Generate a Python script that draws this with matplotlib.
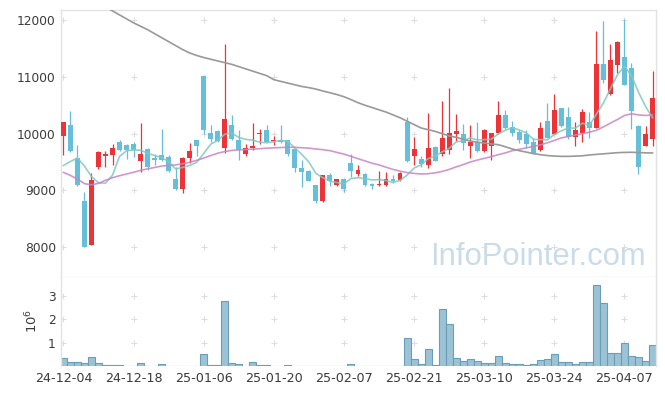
import numpy as np
import matplotlib.pyplot as plt

# daily candles, 2024-12-04 .. 2025-04-11 (85 trading days)
opens = [9950, 10160, 9570, 8820, 8040, 9420, 9600, 9630, 9850, 9800,
         9820, 9510, 9730, 9580, 9620, 9590, 9210, 9030, 9580, 9880,
         11010, 10010, 10050, 9750, 10160, 9880, 9650, 9740, 10000, 10070,
         9870, 9890, 9890, 9730, 9400, 9350, 9090, 8810, 9280, 9090,
         9200, 9480, 9290, 9290, 9120, 9090, 9100, 9200, 9190, 10200,
         9610, 9550, 9440, 9760, 9640, 9720, 10000, 10000, 9790, 9850,
         9690, 9780, 10010, 10320, 10120, 10030, 9990, 9860, 9710, 10230,
         10000, 10450, 10290, 9940, 10020, 10200, 10100, 11220, 10690, 11200,
         11350, 11160, 10140, 9790, 9910]
highs = [10210, 10390, 9800, 8980, 9300, 9690, 9690, 9820, 9880, 9810,
         9850, 10190, 9740, 9640, 10080, 9630, 9420, 9590, 9840, 9880,
         11010, 10150, 10060, 11580, 10320, 10060, 9810, 10190, 10080, 10150,
         9950, 10160, 9890, 9740, 9540, 9360, 9090, 9280, 9310, 9210,
         9220, 9640, 9450, 9300, 9140, 9350, 9320, 9280, 9320, 10300,
         9940, 9610, 10370, 9790, 10570, 10810, 10340, 10170, 10160, 10200,
         10080, 10020, 10570, 10420, 10220, 10070, 10070, 9920, 10200, 10540,
         10700, 10460, 10470, 10200, 10440, 10380, 11800, 11980, 11580, 11630,
         12010, 11250, 10150, 10130, 11100]
lows = [9630, 9680, 9070, 8000, 8040, 9380, 9410, 9440, 9690, 9550,
        9590, 9320, 9360, 9440, 9520, 9320, 9000, 8960, 9480, 9610,
        10000, 9850, 9850, 9660, 9890, 9530, 9600, 9720, 9810, 9850,
        9800, 9840, 9610, 9330, 9060, 9170, 8780, 8800, 9080, 9080,
        8980, 9240, 9250, 9080, 9020, 9080, 9080, 9130, 9160, 9500,
        9450, 9410, 9400, 9510, 9600, 9650, 9870, 9710, 9580, 9680,
        9680, 9540, 10000, 10090, 9960, 9830, 9750, 9640, 9690, 9920,
        9990, 10120, 9900, 9780, 9850, 9920, 10100, 10900, 10680, 11060,
        10850, 10080, 9290, 9780, 9780]
closes = [10210, 9690, 9100, 8010, 9190, 9670, 9650, 9740, 9720, 9710,
          9720, 9650, 9420, 9530, 9530, 9350, 9030, 9570, 9700, 9780,
          10060, 9910, 9870, 10250, 9910, 9710, 9740, 9790, 10020, 9850,
          9890, 9850, 9650, 9390, 9330, 9170, 8820, 9280, 9160, 9200,
          9030, 9350, 9360, 9090, 9070, 9110, 9210, 9160, 9310, 9510,
          9730, 9460, 9750, 9510, 9920, 10020, 10040, 9840, 9850, 9690,
          10070, 10010, 10320, 10100, 10010, 9880, 9820, 9650, 10100, 9920,
          10410, 10130, 9940, 10070, 10380, 10100, 11220, 10950, 11300, 11610,
          10850, 10390, 9410, 10000, 10630]
# volume in millions of shares
volumes = [0.35, 0.18, 0.18, 0.14, 0.39, 0.14, 0.05, 0.05, 0.05, 0.02,
           0.02, 0.14, 0.02, 0.005, 0.10, 0.02, 0.02, 0.02, 0.02, 0.02,
           0.52, 0.06, 0.06, 2.79, 0.14, 0.10, 0.02, 0.18, 0.05, 0.05,
           0.02, 0.02, 0.05, 0.02, 0.02, 0.005, 0.02, 0.02, 0.02, 0.02,
           0.02, 0.10, 0.02, 0.02, 0.02, 0.02, 0.02, 0.02, 0.02, 1.21,
           0.31, 0.10, 0.74, 0.06, 2.45, 1.82, 0.35, 0.24, 0.31, 0.24,
           0.14, 0.14, 0.45, 0.14, 0.10, 0.10, 0.06, 0.10, 0.28, 0.31,
           0.52, 0.18, 0.18, 0.10, 0.18, 0.18, 3.45, 2.71, 0.57, 0.57,
           0.99, 0.45, 0.39, 0.24, 0.91]
ma5 = [9440, 9510, 9570, 9430, 9245, 9135, 9128, 9270, 9600, 9700,
       9712, 9710, 9655, 9615, 9580, 9505, 9380, 9405, 9440, 9495,
       9650, 9815, 9880, 9990, 10010, 9935, 9900, 9885, 9850, 9840,
       9860, 9880, 9865, 9750, 9635, 9500, 9300, 9225, 9165, 9140,
       9115, 9210, 9225, 9210, 9185, 9192, 9175, 9140, 9178, 9270,
       9395, 9450, 9560, 9605, 9680, 9740, 9855, 9875, 9925, 9890,
       9895, 9900, 9995, 10060, 10105, 10065, 10015, 9900, 9895, 9890,
       9985, 10050, 10100, 10097, 10185, 10140, 10345, 10540, 10790, 11035,
       11190, 11020, 10730, 10480, 10280]
ma20 = [9318, 9265, 9200, 9120, 9100, 9125, 9180, 9225, 9260, 9290,
        9320, 9355, 9380, 9405, 9430, 9440, 9450, 9470, 9495, 9530,
        9570, 9615, 9655, 9685, 9705, 9715, 9720, 9728, 9735, 9745,
        9750, 9755, 9762, 9760, 9752, 9745, 9730, 9718, 9700, 9670,
        9640, 9600, 9560, 9520, 9480, 9450, 9410, 9370, 9340, 9315,
        9300, 9290, 9295, 9310, 9335, 9370, 9415, 9455, 9500, 9535,
        9565, 9595, 9630, 9660, 9700, 9725, 9750, 9775, 9800, 9840,
        9880, 9925, 9950, 9975, 10000, 10025, 10060, 10120, 10185, 10250,
        10320, 10350, 10330, 10320, 10330]
ma120 = [12590, 12530, 12470, 12410, 12350, 12290, 12230, 12160, 12090, 12020,
         11950, 11890, 11830, 11760, 11690, 11620, 11550, 11480, 11420, 11376,
         11340, 11310, 11280, 11250, 11220, 11180, 11140, 11100, 11060, 11020,
         10950, 10920, 10890, 10860, 10830, 10810, 10785, 10750, 10720, 10688,
         10650, 10600, 10545, 10500, 10460, 10420, 10380, 10330, 10280, 10220,
         10160, 10100, 10070, 10040, 10000, 9960, 9935, 9900, 9870, 9850,
         9835, 9820, 9806, 9770, 9730, 9700, 9675, 9650, 9630, 9615,
         9605, 9600, 9600, 9605, 9610, 9625, 9635, 9645, 9655, 9665,
         9670, 9672, 9668, 9662, 9660]
tick_labels = ['24-12-04', '24-12-18', '25-01-06', '25-01-20', '25-02-07',
               '25-02-21', '25-03-10', '25-03-24', '25-04-07']

UP = '#ee3338'
DOWN = '#66bfda'
GRID = '#dedede'
SPINE = '#e3e3e3'
TXT = '#3a3a3a'

o = np.array(opens)
c = np.array(closes)
x = np.arange(len(c))
colors = np.where(c >= o, UP, DOWN)

fig = plt.figure(figsize=(6.65, 3.96), dpi=100)
ax1 = fig.add_axes([0.0922, 0.3005, 0.8943, 0.6742])
ax2 = fig.add_axes([0.0922, 0.0745, 0.8943, 0.226], sharex=ax1)

# candles
ax1.vlines(x, lows, highs, colors=colors, linewidth=0.9, zorder=2)
ax1.bar(x, np.maximum(np.abs(c - o), 15), bottom=np.minimum(o, c), width=0.7,
        color=colors, linewidth=0, zorder=3)

# moving averages
ax1.plot(x, ma5, color='#80c9bf', lw=1.2, alpha=0.85, zorder=4)
ax1.plot(x, ma20, color='#c985c4', lw=1.2, alpha=0.85, zorder=4)
ax1.plot(x, ma120, color='#999999', lw=1.2, zorder=4)

xt = np.arange(0, len(c), 10)
yt = np.arange(8000, 12001, 1000)
gx, gy = np.meshgrid(xt, yt)
ax1.plot(gx.ravel(), gy.ravel(), '+', color=GRID, ms=4.5, mew=0.8, zorder=1)

ax1.set_xlim(-0.3, 84.5)
ax1.set_ylim(7477, 12176)
ax1.set_yticks(yt)
ax1.tick_params(axis='both', length=0, labelsize=8.8, colors=TXT, pad=4)
ax1.tick_params(axis='x', labelbottom=False)

ax1.text(0.62, 0.045, 'InfoPointer.com', transform=ax1.transAxes,
         fontsize=22.3, family='Liberation Sans', color='#c9dce7',
         ha='left', va='baseline', zorder=0)

# volume
ax2.bar(x, volumes, width=1.0, color='#9cc3d5', edgecolor='#6a9db6',
        linewidth=0.8, zorder=2)
vt = [1, 2, 3]
gx2, gy2 = np.meshgrid(xt, vt)
ax2.plot(gx2.ravel(), gy2.ravel(), '+', color=GRID, ms=4.5, mew=0.8, zorder=1)
ax2.set_ylim(0, 3.8)
ax2.set_yticks(vt)
ax2.set_xticks(xt)
ax2.set_xticklabels(tick_labels)
ax2.tick_params(axis='y', length=0, labelsize=8.8, colors=TXT, pad=4)
ax2.tick_params(axis='x', length=0, labelsize=9.2, colors=TXT, pad=4)
fig.text(32 / 665, 1 - 321 / 396, r'$10^6$', rotation=90, ha='center',
         va='center', fontsize=9.5, color=TXT)

for ax in (ax1, ax2):
    for s in ax.spines.values():
        s.set_color(SPINE)
        s.set_linewidth(1.0)
ax2.spines['bottom'].set_visible(False)
ax2.spines['top'].set_visible(False)

fig.savefig('out.png', dpi=100)
